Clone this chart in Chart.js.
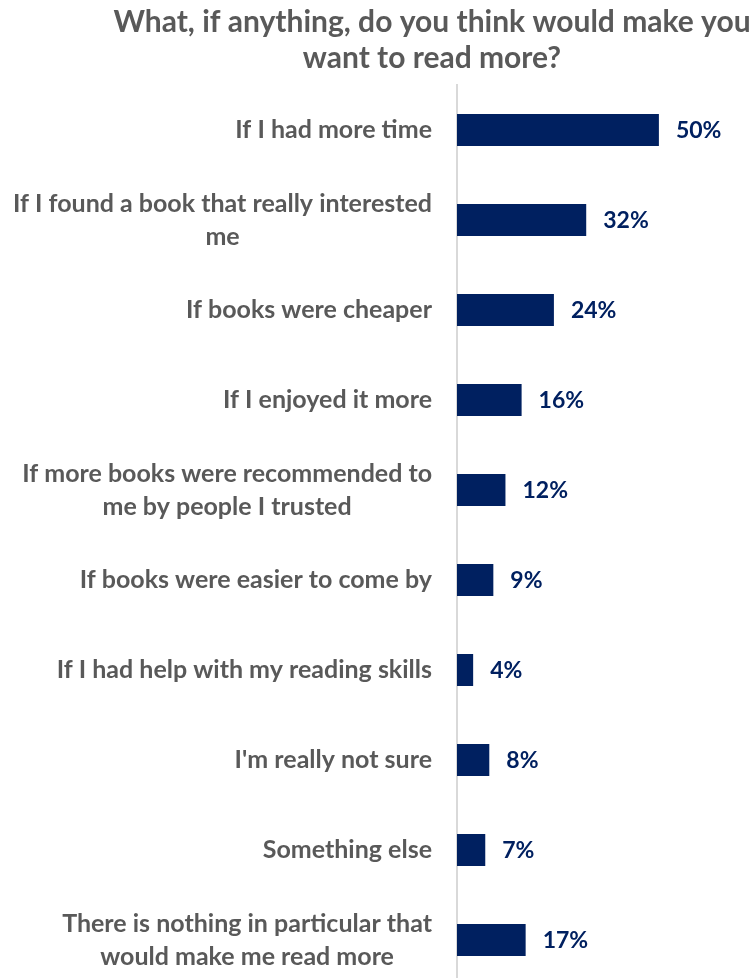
<!DOCTYPE html>
<html>
<head>
<meta charset="utf-8">
<script src="https://cdn.jsdelivr.net/npm/chart.js@4/dist/chart.umd.min.js"></script>
<style>
  html, body { margin: 0; padding: 0; background: #ffffff; overflow: hidden; }
  #wrap { width: 755px; height: 990px; }
</style>
</head>
<body>
<div id="wrap"><canvas id="chart" width="755" height="990"></canvas></div>
<script>
// Survey answers and share of respondents (%)
const categories = [
  ['If I had more time'],
  ['If I found a book that really interested', 'me'],
  ['If books were cheaper'],
  ['If I enjoyed it more'],
  ['If more books were recommended to', 'me by people I trusted'],
  ['If books were easier to come by'],
  ['If I had help with my reading skills'],
  ["I'm really not sure"],
  ['Something else'],
  ['There is nothing in particular that', 'would make me read more']
];
const values = [50, 32, 24, 16, 12, 9, 4, 8, 7, 17];
const titleLines = ['What, if anything, do you think would make you', 'want to read more?'];

const FONT = 'Lato, "Open Sans", sans-serif';
const GREY = '#595959';
const NAVY = '#002060';

// Two-line heading, centred over the bars/labels block
const titlePlugin = {
  id: 'heading',
  afterDraw(chart) {
    const ctx = chart.ctx;
    ctx.save();
    ctx.fillStyle = GREY;
    ctx.font = 'bold 30px ' + FONT;
    ctx.textAlign = 'center';
    ctx.textBaseline = 'middle';
    titleLines.forEach((t, i) => ctx.fillText(t, 432, 22 + i * 36));
    ctx.restore();
  }
};

// Category names: each block sits right of x=432, its lines centred on one another
const categoryLabels = {
  id: 'categoryLabels',
  afterDraw(chart) {
    const ctx = chart.ctx;
    const yScale = chart.scales.y;
    const lineH = 33;
    ctx.save();
    ctx.fillStyle = GREY;
    ctx.font = 'bold 25px ' + FONT;
    ctx.textAlign = 'center';
    ctx.textBaseline = 'middle';
    categories.forEach((lines, i) => {
      const y = yScale.getPixelForTick(i);
      const w = Math.max(...lines.map(l => ctx.measureText(l).width));
      const cx = 432 - w / 2;
      lines.forEach((l, j) => {
        ctx.fillText(l, cx, y + (j - (lines.length - 1) / 2) * lineH);
      });
    });
    ctx.restore();
  }
};

// Percentage written just past the end of each bar
const valueLabels = {
  id: 'valueLabels',
  afterDatasetsDraw(chart) {
    const ctx = chart.ctx;
    const meta = chart.getDatasetMeta(0);
    ctx.save();
    ctx.fillStyle = NAVY;
    ctx.font = 'bold 23px ' + FONT;
    ctx.textAlign = 'left';
    ctx.textBaseline = 'middle';
    meta.data.forEach((bar, i) => {
      ctx.fillText(values[i] + '%', bar.x + 17, bar.y + 1);
    });
    ctx.restore();
  }
};

new Chart(document.getElementById('chart'), {
  type: 'bar',
  data: {
    labels: categories.map(c => c.join(' ')),
    datasets: [{
      data: values,
      backgroundColor: NAVY,
      borderWidth: 0,
      categoryPercentage: 1,
      barPercentage: 0.355
    }]
  },
  options: {
    indexAxis: 'y',
    responsive: false,
    animation: false,
    devicePixelRatio: 1,
    layout: { padding: { top: 85, bottom: 5, left: 0, right: 0 } },
    plugins: {
      legend: { display: false },
      title: { display: false },
      tooltip: { enabled: false }
    },
    scales: {
      x: {
        display: false,
        min: 0,
        max: 73.8
      },
      y: {
        afterFit(scale) {
          scale.width = 457;
          scale.paddingTop = 0;
          scale.paddingBottom = 0;
        },
        grid: { display: false, drawTicks: false },
        border: { display: true, color: '#d9d9d9', width: 2 },
        ticks: { display: false }
      }
    }
  },
  plugins: [titlePlugin, categoryLabels, valueLabels]
});
</script>
</body>
</html>
